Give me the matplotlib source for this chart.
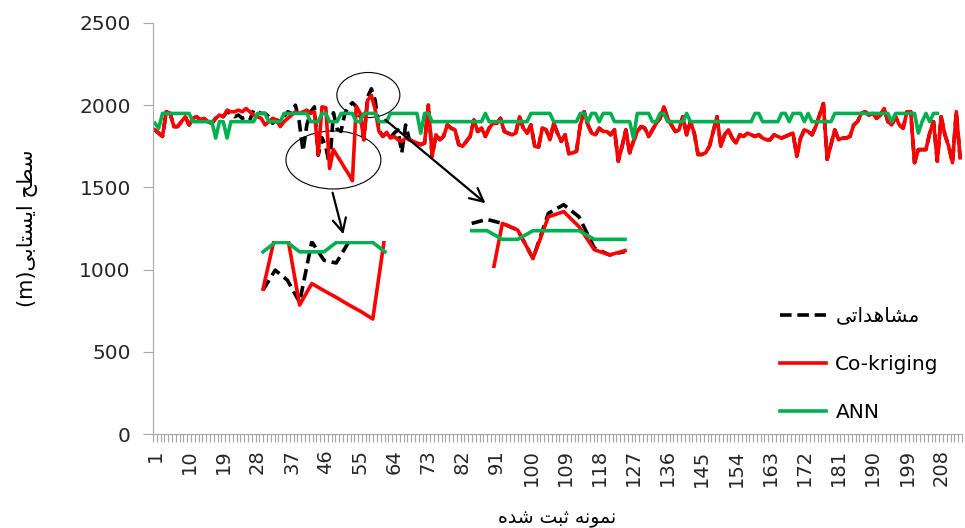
import numpy as np
import matplotlib
matplotlib.use("Agg")
import matplotlib.pyplot as plt
from matplotlib.patches import Ellipse

# Co-kriging estimate, one value per recorded sample (1..213)
cokriging = [1850, 1830, 1810, 1960, 1950, 1870, 1870, 1900, 1930, 1880,
             1920, 1930, 1910, 1920, 1900, 1890, 1920, 1940, 1930, 1970,
             1960, 1960, 1970, 1960, 1980, 1960, 1940, 1930, 1920, 1880,
             1900, 1920, 1910, 1870, 1900, 1920, 1940, 1960, 1950, 1960,
             1970, 1950, 1960, 1700, 1990, 1985, 1615, 1730, 1692, 1656,
             1617, 1581, 1540, 1992, 1954, 1790, 2030, 2060, 1973, 1840,
             1810, 1835, 1800, 1810, 1790, 1780, 1800, 1790, 1780, 1770,
             1760, 1770, 2000, 1690, 1820, 1790, 1810, 1880, 1860, 1850,
             1760, 1750, 1780, 1810, 1910, 1840, 1860, 1810, 1860, 1890,
             1890, 1920, 1840, 1830, 1820, 1830, 1930, 1860, 1830, 1880,
             1750, 1745, 1860, 1850, 1790, 1890, 1830, 1780, 1820, 1705,
             1710, 1720, 1880, 1960, 1880, 1830, 1820, 1860, 1840, 1840,
             1820, 1850, 1660, 1750, 1850, 1710, 1780, 1840, 1870, 1860,
             1810, 1850, 1890, 1920, 1990, 1920, 1880, 1840, 1850, 1930,
             1820, 1900, 1830, 1700, 1700, 1710, 1750, 1840, 1930, 1750,
             1820, 1850, 1800, 1770, 1820, 1810, 1830, 1820, 1810, 1820,
             1800, 1790, 1790, 1820, 1810, 1800, 1810, 1820, 1830, 1690,
             1800, 1850, 1840, 1820, 1870, 1940, 2010, 1670, 1760, 1850,
             1790, 1800, 1800, 1810, 1880, 1900, 1950, 1960, 1940, 1950,
             1920, 1940, 1980, 1900, 1880, 1930, 1880, 1860, 1960, 1960,
             1650, 1730, 1730, 1730, 1830, 1900, 1660, 1930, 1820, 1750,
             1650, 1960, 1680]

# observed water table
observed = [1850, 1830, 1810, 1960, 1950, 1870, 1870, 1900, 1930, 1880,
            1920, 1930, 1910, 1920, 1900, 1890, 1920, 1940, 1930, 1960,
            1950, 1930, 1940, 1920, 1930, 1910, 1970, 1960, 1950, 1950,
            1930, 1890, 1910, 1900, 1930, 1960, 1950, 2000, 1900, 1720,
            1880, 1960, 1990, 1695, 1802, 1748, 1630, 1954, 1855, 1840,
            1950, 1992, 2015, 1992, 1954, 1790, 2050, 2100, 2030, 1850,
            1810, 1830, 1800, 1830, 1850, 1710, 1880, 1790, 1780, 1770,
            1760, 1770, 2000, 1690, 1820, 1790, 1810, 1880, 1860, 1850,
            1760, 1750, 1780, 1810, 1910, 1840, 1860, 1810, 1860, 1890,
            1890, 1920, 1840, 1830, 1820, 1830, 1930, 1860, 1830, 1880,
            1750, 1745, 1860, 1850, 1790, 1890, 1830, 1780, 1820, 1705,
            1710, 1720, 1880, 1960, 1880, 1830, 1820, 1860, 1840, 1840,
            1820, 1850, 1660, 1750, 1850, 1710, 1780, 1840, 1870, 1860,
            1810, 1850, 1890, 1920, 1990, 1920, 1880, 1840, 1850, 1930,
            1820, 1900, 1830, 1700, 1700, 1710, 1750, 1840, 1930, 1750,
            1820, 1850, 1800, 1770, 1820, 1810, 1830, 1820, 1810, 1820,
            1800, 1790, 1790, 1820, 1810, 1800, 1810, 1820, 1830, 1690,
            1800, 1850, 1840, 1820, 1870, 1940, 2010, 1670, 1760, 1850,
            1790, 1800, 1800, 1810, 1880, 1900, 1950, 1960, 1940, 1950,
            1920, 1940, 1980, 1900, 1880, 1930, 1880, 1860, 1960, 1960,
            1650, 1730, 1730, 1730, 1830, 1900, 1660, 1930, 1820, 1750,
            1650, 1960, 1680]

# ANN estimate (first 207 samples)
ann = [1890, 1860, 1950, 1950, 1950, 1950, 1950, 1950, 1950, 1950,
       1900, 1900, 1900, 1900, 1900, 1900, 1800, 1900, 1900, 1800,
       1900, 1900, 1900, 1900, 1900, 1900, 1900, 1950, 1950, 1950,
       1900, 1900, 1900, 1900, 1950, 1950, 1950, 1950, 1950, 1950,
       1950, 1900, 1900, 1900, 1950, 1950, 1900, 1900, 1900, 1950,
       1950, 1950, 1950, 1900, 1900, 1950, 1950, 1950, 1950, 1900,
       1900, 1900, 1950, 1950, 1950, 1950, 1950, 1950, 1950, 1950,
       1830, 1950, 1950, 1900, 1900, 1900, 1900, 1900, 1900, 1900,
       1900, 1900, 1900, 1900, 1900, 1900, 1900, 1950, 1900, 1900,
       1900, 1900, 1900, 1900, 1900, 1900, 1900, 1900, 1900, 1950,
       1950, 1950, 1950, 1950, 1950, 1900, 1900, 1900, 1900, 1900,
       1900, 1900, 1950, 1950, 1900, 1950, 1950, 1900, 1950, 1950,
       1950, 1900, 1900, 1900, 1900, 1900, 1800, 1950, 1950, 1950,
       1950, 1900, 1900, 1950, 1950, 1900, 1900, 1900, 1900, 1900,
       1950, 1900, 1900, 1900, 1900, 1900, 1900, 1900, 1900, 1900,
       1900, 1900, 1900, 1900, 1900, 1900, 1900, 1900, 1950, 1950,
       1900, 1900, 1900, 1900, 1900, 1950, 1950, 1900, 1950, 1950,
       1950, 1900, 1950, 1900, 1900, 1900, 1900, 1900, 1900, 1950,
       1950, 1950, 1950, 1950, 1950, 1950, 1950, 1950, 1950, 1950,
       1950, 1950, 1950, 1950, 1900, 1950, 1950, 1950, 1950, 1950,
       1950, 1830, 1900, 1950, 1900, 1950, 1950]

tick_labels = list(range(1, 209, 9))

# Persian text in visual order (presentation forms)
lbl_obs = "\uFEF0\uFE97\uFE8D\uFEAA\uFEEB\uFE8E\uFEB8\uFEE3"
lbl_x = "\uFEE9\uFEAA\uFEB7 \uFE96\uFE92\uFE9B \uFEEA\uFEE7\uFEEE\uFEE4\uFEE7"
lbl_y = "(m)\uFEF0\uFE91\uFE8E\uFE98\uFEB4\uFEF3\uFE8D \uFEA2\uFEC4\uFEB3"

plt.rcParams['font.family'] = ['DejaVu Sans']

RED = '#FF0000'
GREEN = '#00B050'
GRAY = '#A6A6A6'
LW = 2.6

x = np.arange(1, len(cokriging) + 1)
xa = np.arange(1, len(ann) + 1)

fig = plt.figure(figsize=(9.65, 5.28), dpi=100)
ax = fig.add_axes([153 / 965, 94 / 528, 809 / 965, 411 / 528])


def draw_series(a, sl=None):
    s = slice(None) if sl is None else sl
    a.plot(x[s], observed[s], color='black', lw=LW, dashes=(3.2, 1.6), label=lbl_obs)
    a.plot(x[s], cokriging[s], color=RED, lw=LW, label='Co-kriging')
    a.plot(xa[s], ann[s], color=GREEN, lw=LW, label='ANN')


draw_series(ax)

ax.set_xlim(0.5, len(cokriging) + 0.5)
ax.set_ylim(0, 2500)
ax.set_yticks(np.arange(0, 2501, 500))
ax.tick_params(axis='y', direction='out', length=7, color=GRAY, labelsize=14.5,
               labelcolor='#262626', pad=9)

# one tick mark per category boundary, labels every 9th category
ax.set_xticks(np.arange(0.5, len(cokriging) + 1, 1.0))
ax.set_xticklabels([])
ax.tick_params(axis='x', which='major', direction='out', length=6, color=GRAY, width=0.8)
ax.set_xticks(tick_labels, minor=True)
ax.set_xticklabels([str(t) for t in tick_labels], minor=True, rotation=90)
ax.tick_params(axis='x', which='minor', length=0, labelsize=14, labelcolor='#262626', pad=11)

for side in ['top', 'right']:
    ax.spines[side].set_visible(False)
for side in ['left', 'bottom']:
    ax.spines[side].set_color(GRAY)

ax.set_xlabel(lbl_x, fontsize=13.5, labelpad=16)
ax.set_ylabel(lbl_y, fontsize=15, labelpad=30)

leg = ax.legend(loc='upper left', bbox_to_anchor=(0.775, 0.31), frameon=False,
                fontsize=14.5, handlelength=2.3, handletextpad=0.45, labelspacing=1.45,
                borderpad=0, borderaxespad=0)

# circled regions and arrows to the zoomed views
ax.add_patch(Ellipse((48, 1667), 25, 353, fill=False, ec='black', lw=0.8, clip_on=False))
ax.add_patch(Ellipse((57.2, 2062), 16.6, 274, fill=False, ec='black', lw=0.8, clip_on=False))
ax.annotate('', xy=(50.8, 1198), xytext=(47.6, 1484),
            arrowprops=dict(arrowstyle='->', lw=1.6, color='black', mutation_scale=24))
ax.annotate('', xy=(88.6, 1393), xytext=(61.1, 1922),
            arrowprops=dict(arrowstyle='->', lw=1.6, color='black', mutation_scale=24))

# zoomed view 1: samples 44-54
in1 = fig.add_axes([258 / 965, (528 - 322) / 528, 132 / 965, 81 / 528])
draw_series(in1, slice(43, 54))
in1.set_xlim(43.59, 54.41)
in1.set_ylim(1524, 1958)
in1.axis('off')

# zoomed view 2: samples 52-62
in2 = fig.add_axes([470 / 965, (528 - 268.3) / 528, 157 / 965, 68.3 / 528])
draw_series(in2, slice(51, 62))
in2.set_xlim(51.89, 62.13)
in2.set_ylim(1733, 2127)
in2.axis('off')

fig.savefig('out.png', dpi=100)
